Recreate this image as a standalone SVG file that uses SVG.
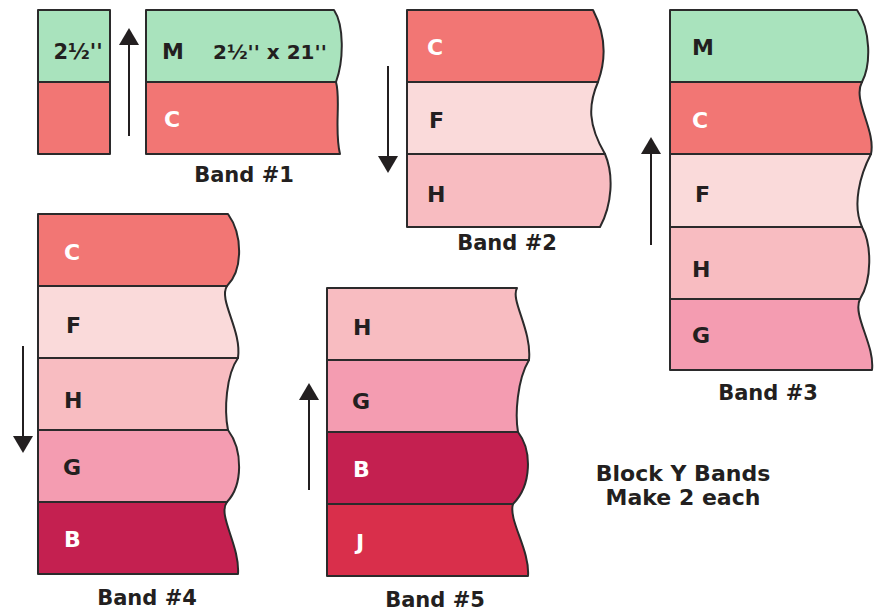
<svg xmlns="http://www.w3.org/2000/svg" width="878" height="612" viewBox="0 0 878 612">
<style>
.s{stroke:#2b2a2b;stroke-width:2;stroke-linejoin:round}
.M{fill:#a9e3bd}.C{fill:#f27674}.F{fill:#fadada}.H{fill:#f8bcc1}.G{fill:#f49cb1}.B{fill:#c42050}.J{fill:#d92f4b}
text{font-family:"DejaVu Sans","Liberation Sans",sans-serif;font-weight:bold}
.l{font-size:22px;fill:#231f20}
.w{font-size:22px;fill:#ffffff}
.d{font-size:20px;fill:#231f20}
.t{font-size:21px;fill:#231f20;text-anchor:middle}
.a{stroke:#231f20;stroke-width:2;fill:none}
</style>
<defs>
<marker id="ah" markerUnits="userSpaceOnUse" markerWidth="17" markerHeight="20" refX="0" refY="10" orient="auto" viewBox="0 0 17 20">
<path d="M0,0 L17,10 L0,20 Z" fill="#231f20"/>
</marker>
</defs>
<rect width="878" height="612" fill="#ffffff"/>

<g id="band1-cut">
<rect class="s M" x="38" y="10" width="72" height="72"/>
<rect class="s C" x="38" y="82" width="72" height="72"/>
<text class="d" x="78" y="59" text-anchor="middle" style="font-size:21px">2½''</text>
</g>

<g id="band1">
<path class="s M" d="M146,10 H334 C344,25 344,60 336,82 H146 Z"/>
<path class="s C" d="M146,82 H336 C341,100 334,130 340,154 H146 Z"/>
<text class="l" x="162" y="59">M</text>
<text class="d" x="213" y="59">2½'' x 21''</text>
<text class="w" x="164" y="127">C</text>
<text class="t" x="244" y="182">Band #1</text>
</g>

<g id="band2">
<path class="s C" d="M407,10 H593 C606,35 606,60 598,82 H407 Z"/>
<path class="s F" d="M407,82 H598 C588,105 588,125 605,154 H407 Z"/>
<path class="s H" d="M407,154 H605 C614,175 612,205 600,227 H407 Z"/>
<text class="w" x="427" y="55">C</text>
<text class="l" x="429" y="128">F</text>
<text class="l" x="427" y="202">H</text>
<text class="t" x="507" y="250">Band #2</text>
</g>

<g id="band3">
<path class="s M" d="M670,10 H857 C871,30 871,65 862,82 H670 Z"/>
<path class="s C" d="M670,82 H862 C852,100 876,130 871,154 H670 Z"/>
<path class="s F" d="M670,154 H871 C860,175 852,205 862,227 H670 Z"/>
<path class="s H" d="M670,227 H862 C872,245 872,280 860,299 H670 Z"/>
<path class="s G" d="M670,299 H860 C852,315 875,345 872,370 H670 Z"/>
<text class="l" x="692" y="55">M</text>
<text class="w" x="692" y="128">C</text>
<text class="l" x="695" y="202">F</text>
<text class="l" x="692" y="277">H</text>
<text class="l" x="692" y="343">G</text>
<text class="t" x="768" y="400">Band #3</text>
</g>

<g id="band4">
<path class="s C" d="M38,214 H228 C243,235 243,270 227,286 H38 Z"/>
<path class="s F" d="M38,286 H227 C218,300 242,330 238,358 H38 Z"/>
<path class="s H" d="M38,358 H238 C226,375 224,410 228,430 H38 Z"/>
<path class="s G" d="M38,430 H228 C243,450 243,485 227,502 H38 Z"/>
<path class="s B" d="M38,502 H227 C217,515 240,545 238,574 H38 Z"/>
<text class="w" x="64" y="260">C</text>
<text class="l" x="66" y="333">F</text>
<text class="l" x="64" y="408">H</text>
<text class="l" x="63" y="475">G</text>
<text class="w" x="64" y="547">B</text>
<text class="t" x="147" y="605">Band #4</text>
</g>

<g id="band5">
<path class="s H" d="M327,288 H517 C510,300 532,330 529,360 H327 Z"/>
<path class="s G" d="M327,360 H529 C517,380 515,415 518,432 H327 Z"/>
<path class="s B" d="M327,432 H518 C532,450 532,485 513,504 H327 Z"/>
<path class="s J" d="M327,504 H513 C508,520 530,550 528,576 H327 Z"/>
<text class="l" x="353" y="335">H</text>
<text class="l" x="352" y="409">G</text>
<text class="w" x="353" y="477">B</text>
<text class="w" x="356" y="550">J</text>
<text class="t" x="435" y="607">Band #5</text>
</g>

<g id="note">
<text class="t" x="683" y="481" style="font-size:22px">Block Y Bands</text>
<text class="t" x="683" y="505" style="font-size:22px">Make 2 each</text>
</g>

<g id="connectors">
<line class="a" x1="129" y1="136" x2="129" y2="45" marker-end="url(#ah)"/>
<line class="a" x1="388" y1="66" x2="388" y2="156" marker-end="url(#ah)"/>
<line class="a" x1="651" y1="245" x2="651" y2="154" marker-end="url(#ah)"/>
<line class="a" x1="23" y1="346" x2="23" y2="436" marker-end="url(#ah)"/>
<line class="a" x1="309" y1="490" x2="309" y2="400" marker-end="url(#ah)"/>
</g>
</svg>
